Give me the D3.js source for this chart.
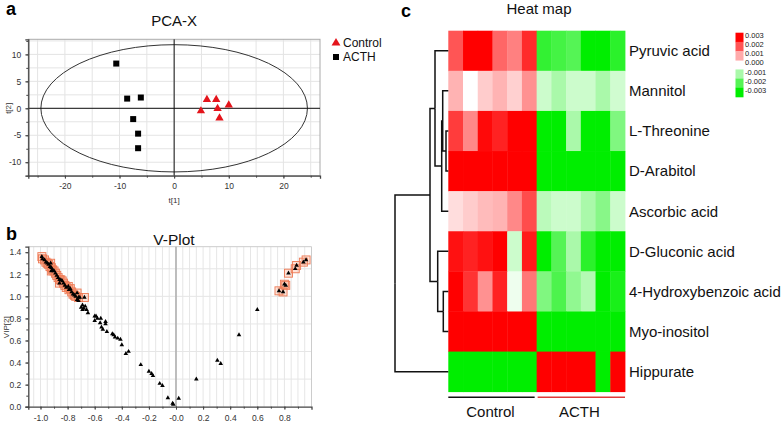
<!DOCTYPE html>
<html><head><meta charset="utf-8">
<script src="https://cdn.jsdelivr.net/npm/d3@7"></script>
<style>body{margin:0;background:#fff} svg{display:block;font-family:"Liberation Sans",Arial,sans-serif}</style>
</head><body><svg id="c" width="784" height="425"></svg>
<script>
// ---------- DATA ----------
const pcaControl = [[4.9,-0.4],[6.0,1.7],[7.7,1.7],[7.95,0.05],[8.3,-1.7],[10.0,0.7]];
const pcaACTH = [[-10.6,8.3],[-8.6,1.8],[-6.1,2.0],[-7.5,-2.0],[-6.6,-4.7],[-6.6,-7.4]];
const pcaEllipse = [24.4, 11.8];
const pcaXTicks = [-20,-10,0,10,20];
const pcaYTicks = [-10,-5,0,5,10];

const vSelected = [[-0.99,1.36],[-0.985,1.34],[-0.97,1.33],[-0.96,1.31],[-0.95,1.30],[-0.94,1.29],[-0.925,1.30],[-0.93,1.27],[-0.92,1.26],[-0.92,1.23],[-0.91,1.24],[-0.90,1.23],[-0.89,1.21],[-0.88,1.19],[-0.87,1.17],[-0.86,1.15],[-0.86,1.12],[-0.85,1.15],[-0.84,1.14],[-0.83,1.12],[-0.82,1.10],[-0.81,1.08],[-0.795,1.09],[-0.79,1.06],[-0.78,1.07],[-0.77,1.04],[-0.76,1.02],[-0.75,1.01],[-0.73,1.03],[-0.74,1.00],[-0.72,0.99],[-0.676,0.99],
  [0.76,1.05],[0.79,1.04],[0.80,1.11],[0.81,1.10],[0.83,1.21],[0.88,1.25],[0.89,1.28],[0.94,1.31],[0.96,1.33]];
const vOther = [[-0.73,0.97],[-0.71,0.99],[-0.72,0.96],[-0.69,0.92],[-0.70,0.90],[-0.68,0.89],[-0.67,0.91],[-0.66,0.88],[-0.65,0.85],[-0.69,0.88],[-0.60,0.82],[-0.59,0.82],[-0.58,0.80],[-0.555,0.80],[-0.56,0.76],[-0.60,0.78],[-0.52,0.77],[-0.52,0.75],[-0.55,0.72],[-0.54,0.70],[-0.51,0.68],[-0.47,0.66],[-0.46,0.65],[-0.45,0.63],[-0.43,0.62],[-0.41,0.61],[-0.40,0.56],[-0.37,0.48],[-0.35,0.50],[-0.26,0.38],[-0.20,0.32],[-0.18,0.30],[-0.17,0.28],[-0.12,0.21],[-0.10,0.19],[-0.06,0.08],[-0.025,0.03],[-0.02,0.02],[0.02,0.075],[0.15,0.25],[0.305,0.42],[0.33,0.39],[0.465,0.65],[0.60,0.88]];
const vXTicks = [-1.0,-0.8,-0.6,-0.4,-0.2,0,0.2,0.4,0.6,0.8];
const vYTicks = [0,0.2,0.4,0.6,0.8,1.0,1.2,1.4];

const metabolites = ["Pyruvic acid","Mannitol","L-Threonine","D-Arabitol","Ascorbic acid","D-Gluconic acid","4-Hydroxybenzoic acid","Myo-inositol","Hippurate"];
const groups = ["Control","ACTH"];
// values in units of 0.001; 6 Control columns then 6 ACTH columns
const heatValues = [
  [2.0,3,3,1.8,1.5,2.5,-2.4,-2.2,-2.0,-3,-3,-2.5],
  [0.9,0,0.6,0.9,0.55,1.3,-0.6,-1.0,-0.6,-0.6,-1.0,-0.55],
  [2.3,1.4,2.9,2.6,3,3,-3,-3,-1.0,-3,-3,-1.5],
  [3,3,3,3,3,3,-3,-3,-3,-3,-3,-3],
  [0.4,0.6,0.8,0.9,1.4,2.1,-0.8,-0.6,-0.6,-1.0,-1.4,-0.6],
  [2.8,2.6,2.8,3,-0.6,2.7,-3,-2.0,-1.0,-2.5,-3,-3],
  [3,2.4,1.3,2.6,-0.2,1.6,-1.5,-2.1,-1.3,-0.9,-3,-2.7],
  [3,3,3,3,3,3,-3,-3,-3,-3,-3,-3],
  [-3,-3,-3,-3,-3,-3,3,3,3,3,-3,3]
];
const legendValues = [3,2,1,0,-1,-2,-3];
const legendLabels = ["0.003","0.002","0.001","0.000","-0.001","-0.002","-0.003"];
const dendro = {h:53.3, children:[
  {h:18.3, children:[
    {h:13.3, children:[{leaf:"Pyruvic acid"},
      {h:6.6, children:[{h:5.6, children:[{leaf:"Mannitol"},{h:2.3, children:[{leaf:"L-Threonine"},{leaf:"D-Arabitol"}]}]},{leaf:"Ascorbic acid"}]}]},
    {h:10.6, children:[{leaf:"D-Gluconic acid"},{h:5, children:[{leaf:"4-Hydroxybenzoic acid"},{leaf:"Myo-inositol"}]}]}
  ]},
  {leaf:"Hippurate"}
]};

// ---------- DRAW ----------
const svg = d3.select("#c");
const txt = (g,x,y,s,o={}) => { const t=g.append("text").attr("x",x).attr("y",y).text(s); for (const k in o) t.attr(k,o[k]); return t; };

// Panel a: PCA
{
  const g = svg.append("g");
  const x = d3.scaleLinear().domain([-26.7,26.7]).range([28.3,320]);
  const y = d3.scaleLinear().domain([-12.5,12.8]).range([175.7,39.3]);
  g.append("g").selectAll("line").data(d3.range(-25,26,5)).join("line")
    .attr("x1",d=>x(d)).attr("x2",d=>x(d)).attr("y1",y(12.8)).attr("y2",y(-12.5)).attr("stroke","#e4e4e4");
  g.append("g").selectAll("line").data(d3.range(-10,12.6,2.5)).join("line")
    .attr("y1",d=>y(d)).attr("y2",d=>y(d)).attr("x1",x(-26.7)).attr("x2",x(26.7)).attr("stroke","#e4e4e4");
  g.append("rect").attr("x",x(-26.7)).attr("y",y(12.8)).attr("width",x(26.7)-x(-26.7)).attr("height",y(-12.5)-y(12.8)).attr("fill","none").attr("stroke","#aaa");
  g.append("ellipse").attr("cx",x(0)).attr("cy",y(0)).attr("rx",x(pcaEllipse[0])-x(0)).attr("ry",y(0)-y(pcaEllipse[1])).attr("fill","none").attr("stroke","#333").attr("stroke-width",1);
  g.append("line").attr("x1",x(0)).attr("x2",x(0)).attr("y1",y(12.8)).attr("y2",y(-12.5)).attr("stroke","#111");
  g.append("line").attr("x1",x(-26.7)).attr("x2",x(26.7)).attr("y1",y(0)).attr("y2",y(0)).attr("stroke","#111");
  g.append("g").attr("transform",`translate(0,${y(-12.5)})`)
    .call(d3.axisBottom(x).tickValues(pcaXTicks).tickSize(3).tickPadding(4).tickFormat(d=>String(d)));
  g.append("g").attr("transform",`translate(0,${y(-12.5)})`).call(d3.axisBottom(x).tickValues(d3.range(-25,26,5)).tickSize(2).tickFormat("")).select(".domain").remove();
  g.append("g").attr("transform",`translate(${x(-26.7)},0)`)
    .call(d3.axisLeft(y).tickValues(pcaYTicks).tickSize(3).tickPadding(4).tickFormat(d=>String(d)));
  g.append("g").attr("transform",`translate(${x(-26.7)},0)`).call(d3.axisLeft(y).tickValues(d3.range(-12.5,12.6,2.5)).tickSize(2).tickFormat("")).select(".domain").remove();
  g.selectAll(".domain").attr("stroke","#444").attr("stroke-width",1.3);
  g.selectAll(".tick line").attr("stroke","#444");
  g.selectAll(".tick text").attr("font-size","8.5px").attr("fill","#333").attr("font-family","Liberation Sans, Arial, sans-serif");
  g.selectAll("rect.sq").data(pcaACTH).join("rect").attr("class","sq")
    .attr("x",d=>x(d[0])-3).attr("y",d=>y(d[1])-3).attr("width",6).attr("height",6).attr("fill","#000");
  g.selectAll("path.tri").data(pcaControl).join("path").attr("class","tri")
    .attr("transform",d=>`translate(${x(d[0])},${y(d[1])+0.5})`).attr("d",d3.symbol(d3.symbolTriangle,30)).attr("fill","#e4141b");
  txt(g,x(0),26,"PCA-X",{"text-anchor":"middle","font-size":"15px","fill":"#111"});
  txt(g,x(0),203,"t[1]",{"text-anchor":"middle","font-size":"8px","fill":"#333"});
  txt(g,0,0,"t[2]",{"text-anchor":"middle","font-size":"8px","fill":"#333","transform":`translate(11,${y(0)}) rotate(-90)`});
  txt(g,6,15,"a",{"font-size":"18px","font-weight":"bold","fill":"#000"});
  g.append("path").attr("transform","translate(336,43)").attr("d",d3.symbol(d3.symbolTriangle,34)).attr("fill","#e4141b");
  g.append("rect").attr("x",333).attr("y",54).attr("width",6).attr("height",6).attr("fill","#000");
  txt(g,343,47,groups[0],{"font-size":"12px","fill":"#111"});
  txt(g,343,61,groups[1],{"font-size":"12px","fill":"#111"});
}

// Panel b: V-Plot
{
  const g = svg.append("g");
  const x = d3.scaleLinear().domain([-1.09,1.0]).range([28.3,311.5]);
  const y = d3.scaleLinear().domain([0,1.45]).range([406.7,246.7]);
  g.append("g").selectAll("line").data(d3.range(-21,20).map(i=>i*0.05)).join("line")
    .attr("x1",d=>x(d)).attr("x2",d=>x(d)).attr("y1",y(1.45)).attr("y2",y(0)).attr("stroke","#e6e6e6");
  g.append("g").selectAll("line").data([0.25,0.5,0.75,1.0,1.25]).join("line")
    .attr("y1",d=>y(d)).attr("y2",d=>y(d)).attr("x1",x(-1.09)).attr("x2",x(1.0)).attr("stroke","#e6e6e6");
  g.append("path").attr("d",`M${x(-1.09)},${y(1.45)}H${x(1.0)}V${y(0)}`).attr("fill","none").attr("stroke","#ccc");
  g.append("line").attr("x1",x(0)).attr("x2",x(0)).attr("y1",y(1.45)).attr("y2",y(0)).attr("stroke","#b0b0b0").attr("stroke-width",1.6);
  g.append("g").attr("transform",`translate(0,${y(0)})`)
    .call(d3.axisBottom(x).tickValues(vXTicks).tickSize(3).tickPadding(5).tickFormat(d=>Math.abs(d)<1e-9?"-0.0":d.toFixed(1)));
  g.append("g").attr("transform",`translate(0,${y(0)})`).call(d3.axisBottom(x).tickValues(d3.range(-10,10).map(i=>i/10)).tickSize(2).tickFormat("")).select(".domain").remove();
  g.append("g").attr("transform",`translate(${x(-1.09)},0)`)
    .call(d3.axisLeft(y).tickValues(vYTicks).tickSize(3).tickPadding(4).tickFormat(d=>d.toFixed(1)));
  g.append("g").attr("transform",`translate(${x(-1.09)},0)`).call(d3.axisLeft(y).tickValues(d3.range(0,15).map(i=>i/10)).tickSize(2).tickFormat("")).select(".domain").remove();
  g.selectAll(".domain").attr("stroke","#444").attr("stroke-width",1.3);
  g.selectAll(".tick line").attr("stroke","#444");
  g.selectAll(".tick text").attr("font-size","8.5px").attr("fill","#333").attr("font-family","Liberation Sans, Arial, sans-serif");
  g.selectAll("rect.box").data(vSelected).join("rect").attr("class","box")
    .attr("x",d=>x(d[0])-4).attr("y",d=>y(d[1])-4).attr("width",8).attr("height",8)
    .attr("fill","rgba(250,150,110,0.28)").attr("stroke","#ee7a55").attr("stroke-width",0.9);
  g.selectAll("path.tri").data(vSelected.concat(vOther)).join("path").attr("class","tri")
    .attr("transform",d=>`translate(${x(d[0])},${y(d[1])})`).attr("d",d3.symbol(d3.symbolTriangle,9)).attr("fill","#000");
  txt(g,x(0)-2,245,"V-Plot",{"text-anchor":"middle","font-size":"15.5px","fill":"#111"});
  txt(g,0,0,"VIP[2]",{"text-anchor":"middle","font-size":"8px","fill":"#333","transform":`translate(9,${y(0.72)}) rotate(-90)`});
  txt(g,6,240,"b",{"font-size":"18px","font-weight":"bold","fill":"#000"});
}

// Panel c: Heat map
{
  const g = svg.append("g");
  const x = d3.scaleBand().domain(d3.range(12)).range([448.3,625]);
  const y = d3.scaleBand().domain(metabolites).range([30.7,391.7]);
  const color = d3.scaleLinear().domain([-3,0,3]).range(["#00ee00","#ffffff","#ff0000"]).clamp(true);
  const cells = [];
  heatValues.forEach((row,i)=>row.forEach((v,j)=>cells.push({m:metabolites[i],j,v})));
  g.selectAll("rect.cell").data(cells).join("rect").attr("class","cell")
    .attr("x",d=>x(d.j)).attr("y",d=>y(d.m)).attr("width",x.bandwidth()+0.4).attr("height",y.bandwidth()+0.4)
    .attr("fill",d=>color(d.v));
  g.selectAll("text.lab").data(metabolites).join("text").attr("class","lab")
    .attr("x",629).attr("y",d=>y(d)+y.bandwidth()/2).attr("dy","0.36em").attr("font-size","15px").attr("fill","#111").text(d=>d);
  // dendrogram
  const xd = d3.scaleLinear().domain([0,53.3]).range([448.3,395]);
  const root = d3.hierarchy(dendro);
  root.eachAfter(n=>{
    if (!n.children){ n.px = xd(0); n.py = y(n.data.leaf)+y.bandwidth()/2; }
    else { n.px = xd(n.data.h); n.py = d3.mean(n.children,c=>c.py); }
  });
  const links = [];
  root.each(n=>{ if(n.children) n.children.forEach(c=>links.push({n,c})); });
  g.selectAll("path.dl").data(links).join("path").attr("class","dl")
    .attr("d",d=>`M${d.c.px},${d.c.py}H${d.n.px}V${d.n.py}`)
    .attr("fill","none").attr("stroke","#111").attr("stroke-width",1.5);
  // group bars
  const gx = [[x(0),x(5)+x.bandwidth()-2],[x(6)+1,x(11)+x.bandwidth()]];
  const gcol = ["#111","#e03a3a"];
  groups.forEach((gr,i)=>{
    g.append("line").attr("x1",gx[i][0]).attr("x2",gx[i][1]).attr("y1",397.3).attr("y2",397.3).attr("stroke",gcol[i]).attr("stroke-width",1.4);
    txt(g,(gx[i][0]+gx[i][1])/2 + (i?-2:-1),417,gr,{"text-anchor":"middle","font-size":"15px","fill":"#111"});
  });
  txt(g,539,14,"Heat map",{"text-anchor":"middle","font-size":"15px","fill":"#111"});
  txt(g,401,17,"c",{"font-size":"18px","font-weight":"bold","fill":"#000"});
  // legend
  const ly = d3.scaleBand().domain(legendValues).range([32.7,97]);
  g.selectAll("rect.lg").data(legendValues.filter(v=>v!==0)).join("rect").attr("class","lg")
    .attr("x",735.5).attr("y",d=>ly(d)).attr("width",8).attr("height",ly.bandwidth()+0.3).attr("fill",d=>color(d));
  g.selectAll("text.lgt").data(legendValues).join("text").attr("class","lgt")
    .attr("x",745).attr("y",(d,i)=>ly(d)+2.5).attr("dy","0.35em").attr("font-size","7.5px").attr("fill","#222")
    .text((d,i)=>legendLabels[i]);
}
</script></body></html>
